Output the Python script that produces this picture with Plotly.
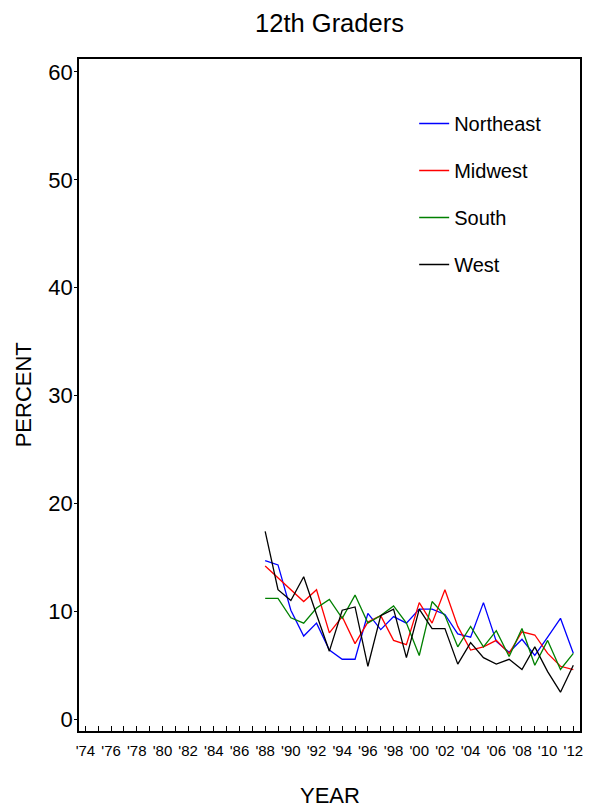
import plotly.graph_objects as go

years = list(range(1988, 2013))
northeast = [14.7, 14.3, 10.1, 7.7, 8.9, 6.4, 5.55, 5.55, 9.8,
             8.3, 9.5, 8.9, 10.2, 10.2, 9.7, 7.9, 7.6,
             10.8, 7.2, 6.2, 7.4, 5.9, 7.6, 9.35, 6.1]
midwest = [14.2, 13.1, 12.0, 10.9, 12.0, 8.0, 9.5, 7.0, 9.0,
           9.6, 7.3, 6.9, 10.8, 8.9, 12.0, 8.6, 6.4,
           6.7, 7.3, 6.1, 8.1, 7.8, 6.1, 4.9, 4.6]
south = [11.2, 11.2, 9.4, 8.9, 10.3, 11.1, 9.35, 11.5, 8.9,
         9.6, 10.5, 8.9, 5.9, 10.9, 9.6, 6.7, 8.6,
         6.7, 8.2, 5.8, 8.4, 5.0, 7.3, 4.6, 6.1]
west = [17.4, 12.0, 11.0, 13.2, 9.7, 6.3, 10.1, 10.4, 4.9,
        9.6, 10.2, 5.7, 10.2, 8.4, 8.4, 5.1, 7.1,
        5.7, 5.1, 5.55, 4.6, 6.7, 4.4, 2.5, 5.0]

tick_years = list(range(1974, 2013, 2))
tick_labels = ["'" + str(y)[2:] for y in tick_years]
y_ticks = [0, 10, 20, 30, 40, 50, 60]

series = [("Northeast", northeast, "#0000FF"),
          ("Midwest", midwest, "#FF0000"),
          ("South", south, "#008000"),
          ("West", west, "#000000")]

FONT = "Arial, Liberation Sans, sans-serif"

fig = go.Figure()
for name, vals, col in series:
    fig.add_trace(go.Scatter(x=years, y=vals, mode="lines", name=name,
                             legendgroup=name,
                             line=dict(color=col, width=1.3)))

fig.update_layout(
    width=592, height=809,
    margin=dict(l=79, r=9, t=59, b=78),
    paper_bgcolor="white", plot_bgcolor="white",
    font=dict(family=FONT, color="black"),
    showlegend=True,
    legend=dict(x=0.669, y=0.933, xanchor="left", yanchor="top",
                font=dict(size=20, family=FONT), tracegroupgap=18,
                bgcolor="rgba(0,0,0,0)", itemwidth=30),
    title=dict(text="12th Graders", x=0.5, xref="paper", y=1 - 23/809,
               yref="container", yanchor="middle", xanchor="center",
               font=dict(size=25.5, family=FONT)),
    xaxis=dict(range=[1973.5, 2012.52], tickvals=tick_years, ticktext=tick_labels,
               ticks="inside", ticklen=5, tickwidth=1, tickcolor="black",
               minor=dict(dtick=1, tick0=1974, ticks="inside", ticklen=5, tickcolor="black", tickwidth=1),
               showgrid=False, zeroline=False, showline=True, linecolor="black", linewidth=1.5,
               mirror=True, tickfont=dict(size=15, family=FONT), ticklabelstandoff=5),
    yaxis=dict(range=[-1.1, 61.2], tickvals=y_ticks, ticks="outside", ticklen=3,
               tickcolor="black", showgrid=False, zeroline=False, showline=True,
               linecolor="black", linewidth=1.5, mirror=True,
               tickfont=dict(size=22, family=FONT), ticklabelstandoff=-3),
    annotations=[
        dict(text="YEAR", x=0.5, xref="paper", y=-(795-731)/672, yref="paper",
             showarrow=False, xanchor="center", yanchor="middle",
             font=dict(size=22, family=FONT)),
        dict(text="PERCENT", x=-(79-23)/504, xref="paper", y=0.5, yref="paper",
             showarrow=False, textangle=-90, xanchor="center", yanchor="middle",
             font=dict(size=22, family=FONT)),
    ],
)

fig.write_html("out.html", config={"displayModeBar": False},
               post_script="document.body.style.margin='0';")
